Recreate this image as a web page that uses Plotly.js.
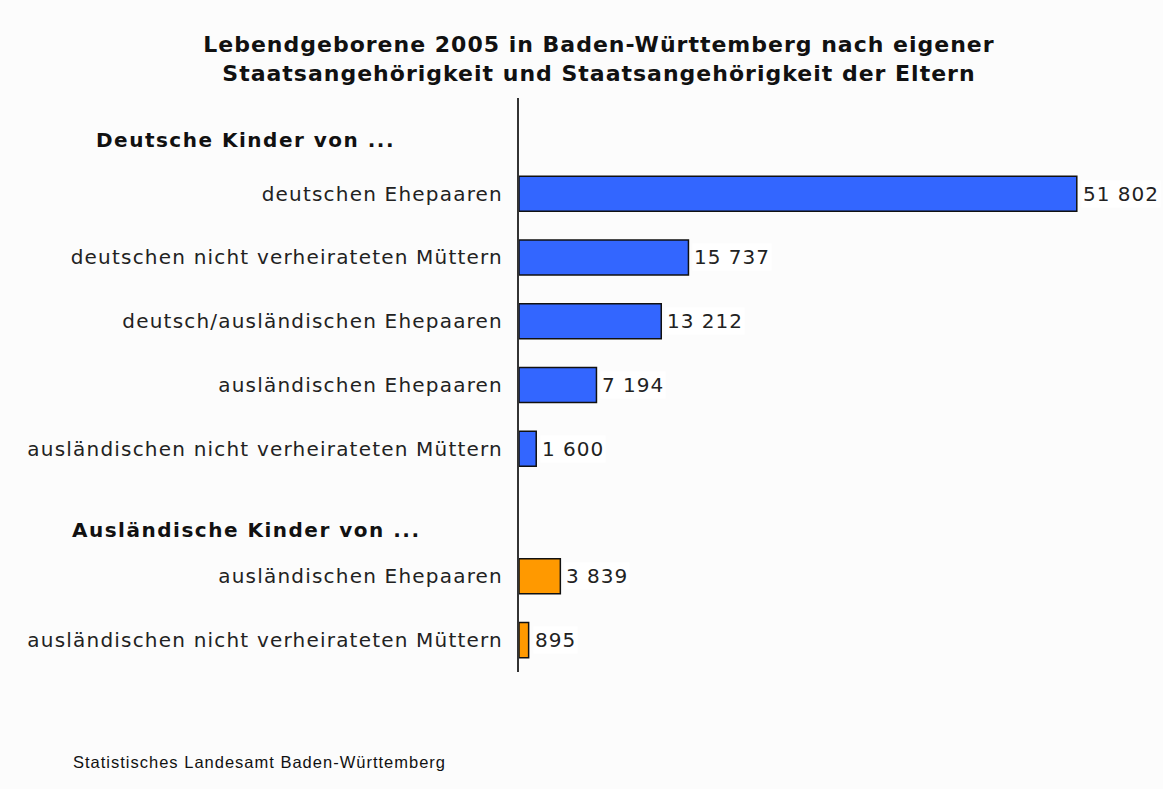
<!DOCTYPE html>
<html><head><meta charset="utf-8">
<script src="https://cdn.plot.ly/plotly-3.0.1.min.js"></script>
<style>
html,body{margin:0;padding:0;background:#fcfcfc;}
#chart{width:1163px;height:789px;}
.ytick text{letter-spacing:1.2px;}
.gtitle{letter-spacing:1px;}
</style>
</head><body><div id="chart"></div>
<script>
const groupTitles = ["Deutsche Kinder von ...", "Ausländische Kinder von ..."];
const germanCategories = ["deutschen Ehepaaren", "deutschen nicht verheirateten Müttern", "deutsch/ausländischen Ehepaaren", "ausländischen Ehepaaren", "ausländischen nicht verheirateten Müttern"];
const germanValues = [51802, 15737, 13212, 7194, 1600];
const foreignCategories = ["ausländischen Ehepaaren", "ausländischen nicht verheirateten Müttern"];
const foreignValues = [3839, 895];

const colors = ["#3366ff", "#ff9900"];
const groups = [[germanCategories, germanValues], [foreignCategories, foreignValues]];
const headerShift = [-10, -17];

function fmt(v) { return String(v).replace(/\B(?=(\d{3})+(?!\d))/g, " "); }
function spaced(t, px) { return '<span style="letter-spacing:' + px + 'px">' + t + '</span>'; }

const traces = [], annotations = [], tickvals = [], ticktext = [];
let pos = 0;
groups.forEach((g, gi) => {
  annotations.push({xref: "paper", x: -0.453, y: pos, yref: "y", text: spaced("<b>" + groupTitles[gi] + "</b>", 1.5), showarrow: false, xanchor: "center", yshift: headerShift[gi], font: {family: "DejaVu Sans", size: 20, color: "#111"}});
  pos++;
  const ys = [];
  g[0].forEach((c, i) => {
    ys.push(pos); tickvals.push(pos); ticktext.push(c);
    annotations.push({x: g[1][i], y: pos, xref: "x", yref: "y", text: spaced(fmt(g[1][i]), 1.0), showarrow: false, xanchor: "left", xshift: 4, bgcolor: "#ffffff", borderpad: 1, font: {family: "DejaVu Sans", size: 20, color: "#222"}});
    pos++;
  });
  traces.push({type: "bar", orientation: "h", x: g[1], y: ys, width: 0.55, marker: {color: colors[gi], line: {color: "#111", width: 1.5}}, hoverinfo: "none", showlegend: false});
});

const layout = {
  width: 1163, height: 789,
  paper_bgcolor: "#fcfcfc", plot_bgcolor: "#fcfcfc",
  margin: {l: 519, r: 41, t: 98, b: 117},
  title: {text: "<b>Lebendgeborene 2005 in Baden-Württemberg nach eigener<br>Staatsangehörigkeit und Staatsangehörigkeit der Eltern</b>", font: {family: "DejaVu Sans", size: 22, color: "#111"}, x: 0.515, xanchor: "center", y: 0.934, yanchor: "top"},
  xaxis: {range: [0, 56000], visible: false, fixedrange: true},
  yaxis: {range: [pos - 0.5, -0.5], tickvals: tickvals, ticktext: ticktext, showline: true, linecolor: "#333", linewidth: 2, showgrid: false, zeroline: false, ticks: "", ticklabelstandoff: 10, tickfont: {family: "DejaVu Sans", size: 20, color: "#222"}},
  annotations: annotations.concat([{xref: "paper", yref: "paper", x: -0.743, y: -0.156, xanchor: "left", yanchor: "middle", text: spaced("Statistisches Landesamt Baden-Württemberg", 1.0), showarrow: false, font: {family: "Liberation Sans", size: 16.5, color: "#111"}}])
};
Plotly.newPlot("chart", traces, layout, {displayModeBar: false, staticPlot: true});
</script></body></html>
